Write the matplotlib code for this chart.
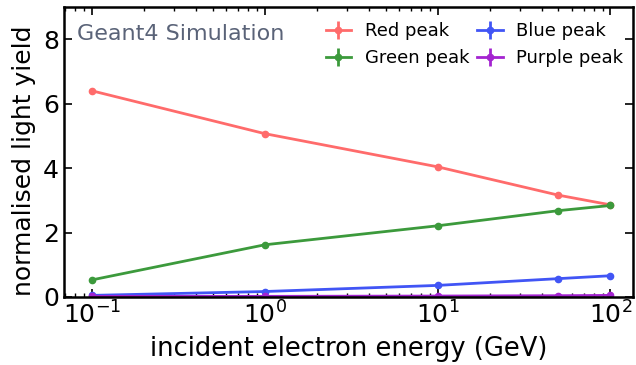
import matplotlib
matplotlib.use("Agg")
import matplotlib.pyplot as plt
import numpy as np

energy = [0.1, 1, 10, 50, 100]
red = [6.40, 5.07, 4.04, 3.16, 2.86]
green = [0.53, 1.62, 2.21, 2.68, 2.84]
blue = [0.05, 0.17, 0.36, 0.57, 0.66]
purple = [0.02, 0.02, 0.03, 0.04, 0.05]

series = [
    ("Red peak", red, "#ff6b6b"),
    ("Green peak", green, "#3c9a3c"),
    ("Blue peak", blue, "#4155f5"),
    ("Purple peak", purple, "#a424d0"),
]

fig = plt.figure(figsize=(6.36, 3.65), dpi=100)
ax = fig.add_axes([64/636, 1-297/365, (633-64)/636, (297-7)/365])

for label, vals, col in series:
    ax.errorbar(energy, vals, yerr=np.zeros(len(vals)), marker="o", ms=4.5,
                color=col, lw=2, label=label)

ax.set_xscale("log")
ax.set_xlim(0.069, 135)
ax.set_ylim(0, 9)
ax.set_yticks([0, 2, 4, 6, 8])
ax.tick_params(axis="both", which="both", direction="in", top=True, right=True,
               labelsize=18)
ax.tick_params(which="major", length=6, width=1.2)
ax.tick_params(which="minor", length=3, width=1)
for s in ax.spines.values():
    s.set_linewidth(1.8)

ax.set_xlabel("incident electron energy (GeV)", fontsize=18.5, labelpad=5)
ax.set_ylabel("normalised light yield", fontsize=18)
ax.yaxis.set_label_coords(-0.05, 0.47)

ax.text(0.023, 0.885, "Geant4 Simulation", transform=ax.transAxes, fontsize=16,
        color="#5a6378", va="baseline", ha="left")
ax.legend(ncol=2, loc="upper right", bbox_to_anchor=(1.0, 1 - 5/290),
          frameon=False, fontsize=13,
          handlelength=1.4, columnspacing=0.45, handletextpad=0.75,
          borderaxespad=0.15, borderpad=0.4, labelspacing=0.5)

fig.savefig("out.png", dpi=100)
